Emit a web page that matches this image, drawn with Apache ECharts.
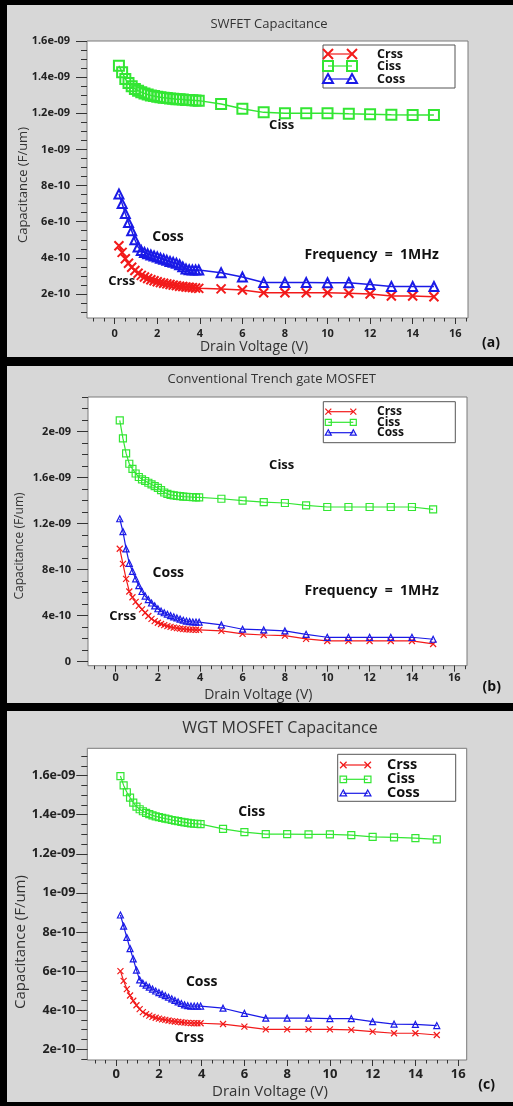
<!DOCTYPE html>
<html>
<head>
<meta charset="utf-8">
<script src="https://cdn.jsdelivr.net/npm/echarts@6/dist/echarts.min.js"></script>
<style>
    html, body { margin: 0; padding: 0; background: #000; }
    .panel { position: absolute; left: 7px; width: 506px; background: #d7d7d7; }
    #main { position: absolute; left: 0; top: 0; width: 513px; height: 1106px; }
</style>
</head>
<body>
<div class="panel" style="top:5px;height:352px"></div>
<div class="panel" style="top:366px;height:337px"></div>
<div class="panel" style="top:711px;height:391px"></div>
<div id="main"></div>
<script>
    // drain voltage (V)
    var voltage = [0.2, 0.35, 0.5, 0.65, 0.8, 0.95, 1.1, 1.25, 1.4, 1.55, 1.7, 1.85, 2.0, 2.15, 2.3, 2.45, 2.6, 2.75, 2.9, 3.05, 3.2, 3.35, 3.5, 3.65, 3.8, 3.95,
        5, 6, 7, 8, 9, 10, 11, 12, 13, 14, 15];

    // capacitance, unit 1e-10 F/um
    // (a) SWFET
    var crssA = [4.67, 4.3, 3.95, 3.7, 3.48, 3.3, 3.15, 3.03, 2.94, 2.86, 2.79, 2.73, 2.68, 2.63, 2.59, 2.56, 2.52, 2.49, 2.46, 2.43, 2.41, 2.39, 2.37, 2.35, 2.33, 2.31,
        2.28, 2.22, 2.07, 2.07, 2.07, 2.07, 2.04, 2.0, 1.89, 1.89, 1.85];
    var cissA = [14.63, 14.27, 13.9, 13.68, 13.5, 13.35, 13.25, 13.17, 13.1, 13.04, 12.99, 12.95, 12.92, 12.89, 12.86, 12.84, 12.82, 12.8, 12.78, 12.77, 12.76, 12.74, 12.73, 12.72, 12.71, 12.7,
        12.51, 12.25, 12.05, 12.0, 12.0, 12.0, 11.97, 11.95, 11.92, 11.9, 11.9];
    var cossA = [7.53, 7.0, 6.45, 5.95, 5.5, 5.0, 4.6, 4.4, 4.3, 4.22, 4.16, 4.1, 4.05, 3.98, 3.92, 3.86, 3.8, 3.75, 3.7, 3.62, 3.5, 3.38, 3.34, 3.33, 3.33, 3.33,
        3.18, 2.94, 2.63, 2.63, 2.63, 2.62, 2.62, 2.52, 2.42, 2.41, 2.41];

    // (b) conventional trench gate
    var crssB = [9.81, 8.5, 7.2, 6.1, 5.6, 5.2, 4.85, 4.55, 4.25, 3.97, 3.72, 3.52, 3.38, 3.27, 3.17, 3.09, 3.02, 2.96, 2.91, 2.87, 2.84, 2.81, 2.79, 2.78, 2.77, 2.76,
        2.67, 2.41, 2.32, 2.26, 1.98, 1.8, 1.8, 1.8, 1.8, 1.8, 1.54];
    var cissB = [20.97, 19.4, 18.1, 17.2, 16.75, 16.35, 16.05, 15.85, 15.7, 15.55, 15.4, 15.25, 15.1, 14.9, 14.7, 14.58, 14.5, 14.45, 14.41, 14.38, 14.35, 14.33, 14.31, 14.3, 14.28, 14.27,
        14.16, 13.99, 13.87, 13.79, 13.58, 13.44, 13.44, 13.44, 13.44, 13.44, 13.23];
    var cossB = [12.42, 11.3, 9.8, 8.55, 7.85, 7.2, 6.6, 6.1, 5.7, 5.4, 5.1, 4.85, 4.6, 4.4, 4.25, 4.12, 4.0, 3.9, 3.8, 3.7, 3.6, 3.53, 3.48, 3.45, 3.44, 3.43,
        3.19, 2.82, 2.76, 2.67, 2.38, 2.12, 2.12, 2.12, 2.12, 2.12, 1.95];

    // (c) WGT
    var crssC = [6.0, 5.5, 5.08, 4.75, 4.48, 4.25, 4.05, 3.9, 3.8, 3.72, 3.66, 3.61, 3.57, 3.53, 3.5, 3.47, 3.44, 3.42, 3.4, 3.38, 3.36, 3.35, 3.34, 3.33, 3.33, 3.33,
        3.29, 3.16, 3.02, 3.02, 3.02, 3.02, 2.99, 2.9, 2.82, 2.82, 2.73];
    var cissC = [15.98, 15.5, 15.15, 14.88, 14.62, 14.42, 14.28, 14.18, 14.1, 14.03, 13.97, 13.92, 13.88, 13.84, 13.8, 13.77, 13.73, 13.7, 13.67, 13.64, 13.61, 13.58, 13.56, 13.54, 13.53, 13.52,
        13.28, 13.11, 13.01, 13.01, 13.0, 13.0, 12.96, 12.87, 12.84, 12.8, 12.74];
    var cossC = [8.87, 8.3, 7.72, 7.15, 6.62, 6.05, 5.55, 5.38, 5.28, 5.18, 5.08, 4.98, 4.9, 4.82, 4.74, 4.66, 4.58, 4.5, 4.42, 4.34, 4.27, 4.23, 4.21, 4.21, 4.21, 4.21,
        4.1, 3.84, 3.59, 3.59, 3.59, 3.57, 3.57, 3.41, 3.29, 3.27, 3.21];

    // tick labels
    var xTicks = [0, 2, 4, 6, 8, 10, 12, 14, 16];
    var yTicksA = [2, 4, 6, 8, 10, 12, 14, 16];
    var yTicksB = [0, 4, 8, 12, 16, 20];
    var yTicksC = [2, 4, 6, 8, 10, 12, 14, 16];

    var seriesNames = ['Crss', 'Ciss', 'Coss'];
    var colors = ['#f21a1a', '#33e633', '#1a1ae6'];
    var FONT = '"Open Sans", "Noto Sans", sans-serif';

    function range(a, b, step) {
        var out = [];
        for (var v = a; v <= b + 1e-9; v += step) out.push(Math.round(v * 100) / 100);
        return out;
    }

    function capLabel(v) {
        if (v === 0) return '0';
        return v >= 10 ? (Math.round(v) / 10) + 'e-09' : Math.round(v) + 'e-10';
    }

    var panels = [{
        title: 'SWFET Capacitance', titlePos: [269, 24], titleSize: 13,
        grid: { left: 87, top: 41, width: 381, height: 277 },
        xr: [-1.3, 16.6], yr: [0.67, 16],
        yTicks: yTicksA, yMinor: range(1, 16, 0.5),
        data: [crssA, cissA, cossA],
        sym: [9, 10, 9], symW: 2, lineW: 1.5,
        xLab: { size: 11, margin: 10 }, yLab: { size: 11, margin: 17 },
        xName: [254, 346.7, 14], yName: [23, 185, 13],
        tag: ['(a)', 491, 343.3],
        notes: [['Ciss', 281.7, 125, 13], ['Coss', 168, 236.7, 14], ['Crss', 121.7, 281.7, 13], ['Frequency  =  1MHz', 371.7, 255, 14]],
        legend: { box: [323, 45, 132, 43], rows: [54, 66, 79], symX: [328, 352], textX: 377, size: 10, lw: 2, font: 12.5 }
    }, {
        title: 'Conventional Trench gate MOSFET', titlePos: [271.7, 379.3], titleSize: 13,
        grid: { left: 88, top: 397, width: 379, height: 268.7 },
        xr: [-1.3, 16.6], yr: [-0.35, 23],
        yTicks: yTicksB, yMinor: range(0, 23, 1),
        data: [crssB, cissB, cossB],
        sym: [6, 7, 6], symW: 1.2, lineW: 1.2,
        xLab: { size: 11, margin: 7 }, yLab: { size: 11, margin: 17 },
        xName: [258.3, 695, 14], yName: [20, 546, 12],
        tag: ['(b)', 491.7, 686.7],
        notes: [['Ciss', 281.7, 465, 13], ['Coss', 168.3, 573.3, 14], ['Crss', 122.7, 616.7, 13], ['Frequency  =  1MHz', 371.7, 590.7, 14]],
        legend: { box: [323.3, 401.7, 132, 41], rows: [411.7, 422.3, 432.7], symX: [328.3, 353.3], textX: 377, size: 6, lw: 1.2, font: 12 }
    }, {
        title: 'WGT MOSFET Capacitance', titlePos: [280, 728.3], titleSize: 16,
        grid: { left: 87.3, top: 748.3, width: 379.4, height: 311.7 },
        xr: [-1.35, 16.4], yr: [1.45, 17.4],
        yTicks: yTicksC, yMinor: range(1.5, 17, 0.5),
        data: [crssC, cissC, cossC],
        sym: [6, 7, 6], symW: 1.2, lineW: 1.2,
        xLab: { size: 13, margin: 8 }, yLab: { size: 12.5, margin: 12 },
        xName: [270, 1091.7, 15], yName: [21, 942, 15],
        tag: ['(c)', 486.7, 1085],
        notes: [['Ciss', 251.7, 812.3, 14], ['Coss', 201.7, 981.7, 14], ['Crss', 189.3, 1038.3, 14]],
        legend: { box: [337.7, 754.3, 118, 47], rows: [765, 779.3, 793.3], symX: [343.3, 367.7], textX: 387, size: 6.5, lw: 1.2, font: 14.5 }
    }];

    var grids = [], xAxes = [], yAxes = [], series = [], graphics = [];

    function text(str, x, y, size, weight, color, align, rot) {
        return {
            type: 'text', x: x, y: y, rotation: rot || 0, z: 100,
            style: {
                text: str, fill: color || '#111',
                font: (weight || 'normal') + ' ' + size + 'px ' + FONT,
                align: align || 'center', textAlign: align || 'center',
                verticalAlign: 'middle', textVerticalAlign: 'middle'
            }
        };
    }

    // legend symbol drawn with plain shapes
    function legendSymbol(k, cx, cy, h, lw) {
        var st = { stroke: colors[k], lineWidth: lw, fill: 'transparent' };
        if (k === 0) {
            return [
                { type: 'line', z: 101, shape: { x1: cx - h, y1: cy - h, x2: cx + h, y2: cy + h }, style: st },
                { type: 'line', z: 101, shape: { x1: cx + h, y1: cy - h, x2: cx - h, y2: cy + h }, style: st }
            ];
        }
        if (k === 1) {
            return [{ type: 'rect', z: 101, shape: { x: cx - h, y: cy - h, width: 2 * h, height: 2 * h }, style: st }];
        }
        return [{ type: 'polygon', z: 101, shape: { points: [[cx, cy - h], [cx + h, cy + h * 0.8], [cx - h, cy + h * 0.8]] }, style: st }];
    }

    panels.forEach(function (p, i) {
        grids.push({
            left: p.grid.left, top: p.grid.top, width: p.grid.width, height: p.grid.height,
            show: true, backgroundColor: '#fff', borderColor: '#7a7a7a', borderWidth: 1
        });

        var lab = { fontFamily: FONT, fontWeight: 'bold', color: '#222' };

        // major x axis with labels, minor x axis with short ticks
        xAxes.push({
            gridIndex: i, type: 'value', position: 'bottom', min: p.xr[0], max: p.xr[1],
            axisLine: { show: false, onZero: false },
            splitLine: { show: false },
            axisTick: { show: true, customValues: xTicks, length: 6, lineStyle: { color: '#333' } },
            axisLabel: Object.assign({ customValues: xTicks, fontSize: p.xLab.size, margin: p.xLab.margin }, lab)
        }, {
            gridIndex: i, type: 'value', position: 'bottom', min: p.xr[0], max: p.xr[1],
            axisLine: { show: false, onZero: false },
            splitLine: { show: false },
            axisTick: { show: true, customValues: range(-1, 16.5, 0.5).filter(function (v) { return v >= p.xr[0] && v <= p.xr[1]; }), length: 3.5, lineStyle: { color: '#333' } },
            axisLabel: { show: false }
        });

        yAxes.push({
            gridIndex: i, type: 'value', position: 'left', min: p.yr[0], max: p.yr[1],
            axisLine: { show: false, onZero: false },
            splitLine: { show: false },
            axisTick: { show: true, customValues: p.yTicks, length: 11, lineStyle: { color: '#333' } },
            axisLabel: Object.assign({ customValues: p.yTicks, fontSize: p.yLab.size, margin: p.yLab.margin, formatter: capLabel }, lab)
        }, {
            gridIndex: i, type: 'value', position: 'left', min: p.yr[0], max: p.yr[1],
            axisLine: { show: false, onZero: false },
            splitLine: { show: false },
            axisTick: { show: true, customValues: p.yMinor, length: 6, lineStyle: { color: '#333' } },
            axisLabel: { show: false }
        });

        var symbols = ['path://M0,0L10,10M10,0L0,10', 'rect', 'triangle'];
        seriesNames.forEach(function (name, k) {
            series.push({
                name: name, type: 'line',
                xAxisIndex: 2 * i, yAxisIndex: 2 * i,
                data: voltage.map(function (v, j) { return [v, p.data[k][j]]; }),
                symbol: symbols[k], symbolSize: p.sym[k],
                lineStyle: { color: colors[k], width: p.lineW },
                itemStyle: { color: 'rgba(0,0,0,0)', borderColor: colors[k], borderWidth: p.symW },
                z: 3 + k
            });
        });

        // texts
        graphics.push(text(p.title, p.titlePos[0], p.titlePos[1], p.titleSize, 'normal', '#333'));
        graphics.push(text('Drain Voltage (V)', p.xName[0], p.xName[1], p.xName[2], 'normal', '#333'));
        graphics.push(text('Capacitance (F/um)', p.yName[0], p.yName[1], p.yName[2], 'normal', '#333', 'center', Math.PI / 2));
        graphics.push(text(p.tag[0], p.tag[1], p.tag[2], 14, 'bold', '#111'));
        p.notes.forEach(function (n) {
            graphics.push(text(n[0], n[1], n[2], n[3], 'bold', '#111'));
        });

        // legend box
        var L = p.legend;
        graphics.push({
            type: 'rect', z: 100,
            shape: { x: L.box[0], y: L.box[1], width: L.box[2], height: L.box[3] },
            style: { fill: '#fff', stroke: '#555', lineWidth: 1 }
        });
        seriesNames.forEach(function (name, k) {
            var ry = L.rows[k];
            graphics.push({
                type: 'line', z: 101,
                shape: { x1: L.symX[0], y1: ry, x2: L.symX[1], y2: ry },
                style: { stroke: colors[k], lineWidth: 1.2 }
            });
            graphics = graphics.concat(legendSymbol(k, L.symX[0], ry, L.size / 2, L.lw));
            graphics = graphics.concat(legendSymbol(k, L.symX[1], ry, L.size / 2, L.lw));
            graphics.push(text(name, L.textX, ry, L.font, 'bold', '#111', 'left'));
        });
    });

    var chart = echarts.init(document.getElementById('main'), null, { renderer: 'canvas' });

    chart.setOption({
        animation: false,
        backgroundColor: 'transparent',
        grid: grids,
        xAxis: xAxes,
        yAxis: yAxes,
        series: series,
        graphic: { elements: graphics }
    });
</script>
</body>
</html>
